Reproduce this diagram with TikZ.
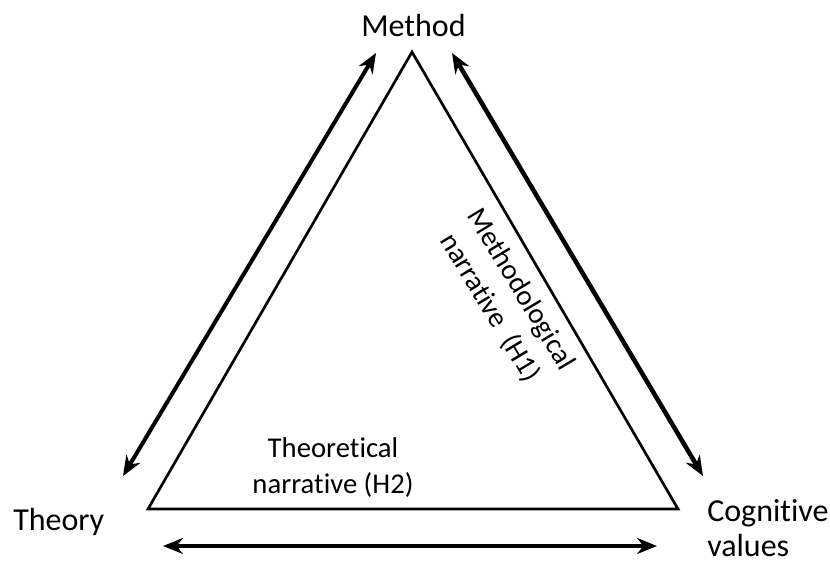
\documentclass[tikz,border=0pt]{standalone}
\usepackage{fontspec}
\setmainfont[Ligatures=NoCommon]{Carlito}
\usetikzlibrary{positioning,arrows.meta}

\begin{document}
\begin{tikzpicture}[x=0.75pt,y=-0.75pt,
  every node/.style={font=\fontsize{24}{26}\selectfont,inner sep=0pt},
  edge/.style={line width=2pt},
  link/.style={line width=3pt,{Stealth[length=15pt,width=12pt]}-{Stealth[length=15pt,width=12pt]}},
  narr/.style={font=\fontsize{21.5}{27}\selectfont,align=center}]
\useasboundingbox (0,0) rectangle (830,563);
% corners of the triangle
\coordinate (top) at (412,52);
\coordinate (bl) at (148,509);
\coordinate (br) at (678,509);
\draw[edge,line join=miter] (top) -- (bl) -- (br) -- cycle;
% the three poles
\node[anchor=base] (method) at (413.5,37) {Method};
\node[anchor=base west] (theory) at (13,530) {Theory};
\node[align=left,anchor=base west] (cogn) at (707,556) {Cognitive\\values};
% ends of the double arrows
\coordinate (l1) at (123,476); \coordinate (l2) at (376,53);
\coordinate (r1) at (452,53); \coordinate (r2) at (703,476);
\coordinate (b1) at (163,546); \coordinate (b2) at (657,546);
\draw[link] (l1) -- (l2);
\draw[link,line width=3.4pt] (r1) -- (r2);
\draw[link,line width=2.4pt] (b1) -- (b2);
% narratives (base = last line)
\node[narr,anchor=base] (theo) at (333,493) {Theoretical\\narrative (H2)};
\node[narr,anchor=base,rotate=-59] (meth) at (483,312) {Methodological\\narrative~ (H1)};
\end{tikzpicture}
\end{document}
